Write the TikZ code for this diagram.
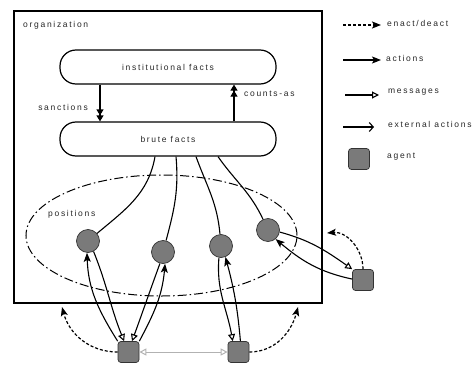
\documentclass[tikz,border=0pt]{standalone}
\usepackage{fontspec}
\newfontfamily\lbl[LetterSpace=20]{Liberation Sans}
\usetikzlibrary{arrows.meta,shapes.geometric}
\begin{document}
\begin{tikzpicture}[x=1pt,y=-1pt,
  txt/.style={font=\lbl\fontsize{8.5}{10}\selectfont, text=black!85, inner sep=0pt},
  facts/.style={draw, line width=1.2pt, rounded corners=16pt, minimum width=216pt, minimum height=34pt, font=\lbl\fontsize{8.5}{10}\selectfont, text=black!85},
  posn/.style={circle, draw=black!80, fill=black!52, line width=0.7pt, minimum size=23pt, inner sep=0pt},
  agentbox/.style={draw=black!80, fill=black!52, line width=0.7pt, rounded corners=3pt, minimum size=21pt, inner sep=0pt},
  link/.style={line width=1.1pt},
  act/.style={line width=1.1pt, -{Stealth[length=9pt,width=7pt,inset=2pt]}},
  msg/.style={line width=1.1pt, -{Triangle[open,length=7pt,width=7pt]}},
  enact/.style={line width=1.2pt, dash pattern=on 3pt off 2pt, -{Stealth[length=9pt,width=7pt,inset=2pt]}},
  ext/.style={line width=1.1pt, -{Straight Barb[length=4pt,width=9pt]}},
  dbl/.style={line width=1.2pt, -{Triangle[length=6pt,width=7pt]Triangle[length=6pt,width=7pt]}}
]
\useasboundingbox (0,0) rectangle (476,364);
% organization
\node[draw, line width=1.3pt, minimum width=308pt, minimum height=292pt, inner sep=0pt] (org) at (168,157) {};
\node[txt, anchor=west] (orglbl) at (23,25) {organization};
\node[facts] (inst) at (168,67) {institutional facts};
\node[facts] (brute) at (168,139) {brute facts};
\coordinate (sx) at (100,0);
\coordinate (cx) at (234,0);
\draw[dbl] (inst.south -| sx) -- (brute.north -| sx);
\draw[dbl] (brute.north -| cx) -- (inst.south -| cx);
\node[txt, anchor=east] (sanc) at (88,107) {sanctions};
\node[txt, anchor=west] (cnt) at (244,94) {counts-as};
% positions
\node[draw, ellipse, line width=1pt, dash pattern=on 9pt off 3pt on 1.5pt off 3pt, minimum width=271pt, minimum height=121pt, inner sep=0pt] (pos) at (161.5,235.5) {};
\node[txt, anchor=west] (poslbl) at (48,214) {positions};
\node[posn] (c1) at (88,241) {};
\node[posn] (c2) at (163,252) {};
\node[posn] (c3) at (221,246) {};
\node[posn] (c4) at (268,230) {};
\coordinate (b1) at (155,0);
\coordinate (b2) at (176,0);
\coordinate (b3) at (196,0);
\coordinate (b4) at (218,0);
\draw[link] (brute.south -| b1) to[out=-100,in=40] (c1);
\draw[link] (brute.south -| b2) to[out=-85,in=75] (c2);
\draw[link] (brute.south -| b3) to[out=-70,in=95] (c3);
\draw[link] (brute.south -| b4) to[out=-55,in=115] (c4);
% agents
\node[agentbox] (a1) at (128.5,352) {};
\node[agentbox] (a2) at (238.5,352) {};
\node[agentbox] (a3) at (363,280) {};
% actions & messages
\draw[act] (a1.north west) to[out=122,in=-88] (c1.-95);
\draw[msg] (c1.-62) to[out=-68,in=112] (a1.112);
\draw[msg] (c2.-105) to[out=-110,in=70] (a1.72);
\draw[act] (a1.north east) to[out=62,in=-95] (c2.-80);
\draw[msg] (c3.-100) to[out=-95,in=100] (a2.118);
\draw[act] (a2.80) to[out=95,in=-75] (c3.-68);
\draw[msg] (c4.-10) to[out=-15,in=145] (a3.north west);
\draw[act] (a3.175) to[out=168,in=-40] (c4.-50);
% enact/deact
\coordinate (e1) at (62,307);
\coordinate (e2) at (298,307);
\coordinate (e3) at (327,233);
\draw[enact] (a1.west) to[out=180,in=-75] (e1);
\draw[enact] (a2.east) to[out=0,in=-105] (e2);
\draw[enact] (a3.north) to[out=90,in=5] (e3);
% external message between agents
\draw[line width=1pt, draw=black!30, {Triangle[open,length=7pt,width=7pt]}-{Triangle[open,length=7pt,width=7pt]}] (a1.east) -- (a2.west);
% legend
\coordinate (l1s) at (343,25); \coordinate (l1e) at (381,25);
\coordinate (l2s) at (343,60); \coordinate (l2e) at (381,60);
\coordinate (l3s) at (345,95); \coordinate (l3e) at (379,95);
\coordinate (l4s) at (343,127); \coordinate (l4e) at (374,127);
\draw[enact] (l1s) -- (l1e);
\draw[act] (l2s) -- (l2e);
\draw[msg] (l3s) -- (l3e);
\draw[ext] (l4s) -- (l4e);
\node[agentbox] (lag) at (359,159) {};
\node[txt, anchor=west] (t1) at (387,23) {enact/deact};
\node[txt, anchor=west] (t2) at (386,58) {actions};
\node[txt, anchor=west] (t3) at (388,92) {messages};
\node[txt, anchor=west] (t4) at (388,124) {external actions};
\node[txt, anchor=west] (t5) at (387,157) {agent};
\end{tikzpicture}
\end{document}
